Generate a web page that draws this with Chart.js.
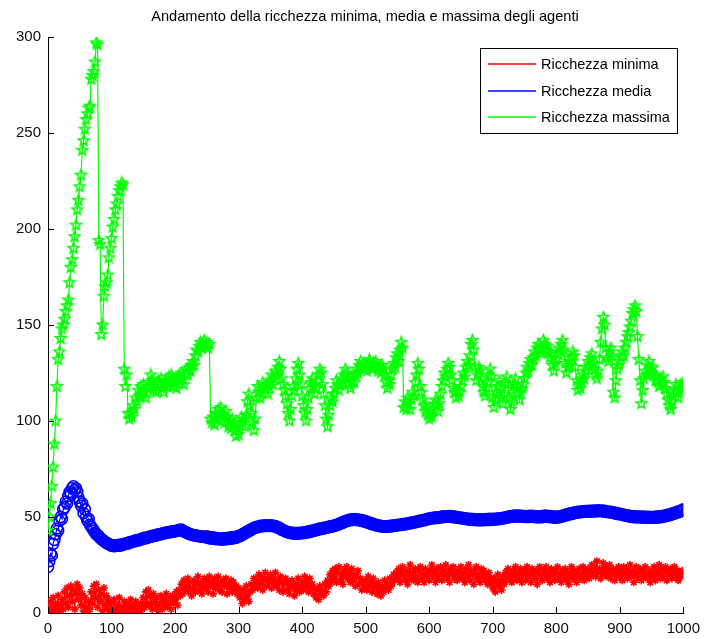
<!DOCTYPE html>
<html>
<head>
<meta charset="utf-8">
<title>Ricchezza degli agenti</title>
<script src="https://cdn.jsdelivr.net/npm/chart.js@4.4.1/dist/chart.umd.min.js"></script>
<style>
  html, body { margin: 0; padding: 0; background: #fff; }
  #wrap { width: 707px; height: 639px; }
</style>
</head>
<body>
<div id="wrap"><canvas id="c" width="707" height="639"></canvas></div>
<script>
// Simulation steps (one sample every 2 steps, 0..1000)
const steps = [];
for (let s = 0; s <= 1000; s += 2) steps.push(s);

const titleText = 'Andamento della ricchezza minima, media e massima degli agenti';
const seriesNames = ['Ricchezza minima', 'Ricchezza media', 'Ricchezza massima'];
const xTicks = [0, 100, 200, 300, 400, 500, 600, 700, 800, 900, 1000];
const yTicks = [0, 50, 100, 150, 200, 250, 300];

// Minimum wealth (each row = 50 steps)
const ricchezzaMinima = [
  3, 0, 6, 2, 8, 1, 5, 3, 9, 1, 4, 7, 2, 11, 5, 13, 3, 9, 14, 6, 12, 2, 10, 15, 7,
  13, 4, 10, 1, 8, 3, 0, 6, 2, 11, 5, 14, 8, 15, 3, 12, 6, 10, 1, 13, 4, 9, 2, 7, 0,
  5, 1, 7, 2, 0, 4, 8, 1, 3, 0, 6, 2, 5, 1, 3, 7, 0, 4, 2, 6, 1, 3, 0, 5, 2,
  8, 3, 11, 5, 12, 4, 9, 2, 10, 6, 3, 8, 1, 5, 9, 2, 7, 4, 10, 3, 6, 8, 2, 9, 5,
  7, 11, 4, 12, 9, 15, 10, 17, 12, 14, 18, 11, 16, 9, 13, 17, 11, 15, 19, 12, 16, 10, 14, 18, 13,
  17, 11, 19, 14, 16, 10, 18, 13, 15, 19, 12, 16, 11, 17, 14, 18, 10, 15, 13, 17, 11, 16, 12, 14, 10,
  13, 8, 11, 5, 12, 7, 14, 9, 6, 11, 15, 12, 18, 14, 17, 13, 20, 15, 19, 12, 17, 21, 14, 18, 16,
  20, 13, 18, 15, 21, 14, 17, 12, 19, 16, 11, 15, 18, 12, 16, 10, 14, 17, 13, 9, 15, 12, 18, 11, 14,
  16, 12, 19, 14, 17, 11, 18, 13, 15, 10, 13, 8, 12, 7, 14, 10, 12, 9, 15, 11, 17, 14, 20, 16, 22,
  18, 23, 16, 21, 24, 17, 20, 15, 22, 19, 24, 18, 21, 16, 23, 17, 20, 14, 19, 22, 15, 18, 12, 16, 13,
  17, 12, 19, 14, 16, 11, 18, 13, 15, 10, 16, 12, 9, 14, 11, 17, 13, 15, 12, 18, 14, 16, 20, 17, 21,
  18, 23, 16, 21, 24, 19, 17, 22, 15, 20, 25, 18, 21, 17, 23, 19, 16, 22, 24, 18, 20, 16, 23, 19, 21,
  17, 22, 25, 19, 21, 16, 23, 18, 20, 24, 17, 22, 19, 25, 18, 21, 16, 23, 20, 24, 18, 21, 17, 22, 19,
  24, 18, 21, 16, 23, 19, 25, 17, 22, 20, 15, 21, 24, 18, 20, 16, 23, 19, 22, 17, 20, 15, 21, 18, 16,
  13, 18, 11, 16, 20, 14, 17, 12, 19, 15, 21, 17, 23, 18, 20, 16, 22, 19, 24, 17, 21, 18, 23, 16, 20,
  22, 17, 24, 19, 21, 16, 23, 20, 18, 22, 15, 21, 24, 19, 17, 22, 20, 24, 18, 21, 16, 23, 19, 22, 17,
  21, 24, 18, 20, 16, 22, 19, 23, 17, 21, 15, 20, 24, 18, 22, 19, 16, 21, 23, 18, 20, 24, 17, 22, 19,
  23, 18, 22, 25, 20, 24, 19, 27, 21, 23, 18, 22, 26, 20, 24, 19, 22, 25, 18, 21, 23, 17, 22, 20, 24,
  19, 22, 17, 24, 20, 23, 18, 21, 25, 19, 22, 16, 20, 24, 18, 21, 23, 17, 22, 19, 24, 20, 18, 22, 16,
  21, 19, 24, 17, 22, 20, 25, 18, 23, 19, 21, 24, 17, 22, 20, 23, 18, 21, 24, 19, 22, 17, 21, 19, 22,
  20
];

// Mean wealth
const ricchezzaMedia = [
  24, 27, 31, 30, 36, 38, 41, 44, 43, 48, 50, 49, 54, 55, 58, 57, 61, 63, 62, 65, 66, 64, 65, 63, 60,
  58, 56, 57, 52, 54, 50, 48, 49, 46, 45, 44, 43, 42, 41, 40.5, 40, 39, 38.5, 38, 37.5, 37, 36.5, 36, 36, 35.5,
  35, 35.3, 34.8, 35.2, 35, 35.4, 35, 35.6, 35.3, 35.8, 36, 35.9, 36.4, 36.2, 36.8, 37, 36.9, 37.4, 37.3, 37.8, 38, 37.8, 38.3, 38.2, 38.6,
  39, 38.8, 39.3, 39.1, 39.6, 39.8, 39.7, 40.2, 40.1, 40.5, 40.4, 40.9, 41, 40.9, 41.3, 41.2, 41.6, 41.5, 41.9, 42, 41.9, 42.3, 42.2, 42.5, 42.4,
  42.6, 42.8, 43, 43.3, 43.1, 43.4, 42.9, 42.6, 42.2, 41.9, 41.6, 41.3, 41, 40.9, 40.6, 40.5, 40.4, 40.3, 40.1, 40, 39.9, 39.9, 39.7, 39.6, 39.6,
  39.9, 39.1, 39.6, 38.8, 39.4, 38.7, 39.3, 38.5, 39, 38.4, 38.9, 38.2, 38.8, 38.3, 39, 38.4, 39.1, 38.6, 39.3, 38.7, 39.5, 38.9, 39.6, 39.2, 39.9,
  39.8, 40.4, 40.3, 41, 41.1, 41.8, 41.9, 42.6, 42.6, 43.3, 43.4, 44, 44.1, 44.6, 44.5, 45, 44.9, 45.4, 45.1, 45.6, 45.3, 45.7, 45.3, 45.7, 45.4,
  45.7, 45.3, 45.6, 45.1, 45.3, 44.7, 44.8, 44.1, 44, 43.4, 43.2, 42.8, 42.6, 42.2, 42.2, 41.8, 41.9, 41.5, 41.8, 41.3, 41.7, 41.3, 41.8, 41.4, 41.8,
  41.5, 42, 41.7, 42.2, 41.9, 42.5, 42.2, 42.8, 42.6, 43.1, 42.9, 43.5, 43.3, 43.8, 43.6, 44.1, 43.9, 44.4, 44.2, 44.7, 44.5, 45, 44.8, 45.3, 45.1,
  45.6, 45.5, 46, 45.9, 46.5, 46.5, 47.1, 47, 47.6, 47.6, 48.1, 48, 48.5, 48.3, 48.8, 48.5, 48.9, 48.5, 48.8, 48.3, 48.6, 48.1, 48.4, 47.8, 48,
  47.4, 47.6, 47, 47.1, 46.5, 46.7, 46.1, 46.2, 45.7, 45.8, 45.4, 45.5, 45.1, 45.3, 44.9, 45.2, 44.9, 45.2, 45, 45.4, 45.1, 45.5, 45.3, 45.7, 45.5,
  45.9, 45.7, 46.1, 45.9, 46.3, 46.1, 46.5, 46.3, 46.7, 46.6, 47, 46.8, 47.3, 47.1, 47.5, 47.4, 47.8, 47.7, 48.1, 48, 48.4, 48.3, 48.7, 48.7, 49.1,
  49, 49.4, 49.2, 49.6, 49.4, 49.8, 49.5, 49.9, 49.7, 50.1, 49.9, 50.3, 50, 50.4, 50.1, 50.5, 50.2, 50.5, 50, 50.3, 49.8, 50.1, 49.6, 49.9, 49.5,
  49.7, 49.2, 49.5, 49, 49.3, 48.8, 49.1, 48.6, 49, 48.5, 48.9, 48.4, 48.8, 48.3, 48.8, 48.3, 48.8, 48.3, 48.8, 48.4, 48.9, 48.4, 49, 48.5, 49,
  48.6, 49.1, 48.7, 49.2, 48.8, 49.3, 49, 49.5, 49.2, 49.7, 49.5, 50, 49.8, 50.3, 50, 50.5, 50.2, 50.7, 50.3, 50.8, 50.3, 50.7, 50.2, 50.6, 50.1,
  50.5, 50, 50.5, 50, 50.6, 50.1, 50.6, 50.1, 50.5, 49.9, 50.3, 49.8, 50.4, 49.9, 50.5, 50, 50.7, 50.1, 50.6, 50, 50.5, 49.9, 50.3, 49.7, 50.2,
  49.7, 50.2, 49.8, 50.4, 50.1, 50.7, 50.5, 51.1, 50.9, 51.5, 51.3, 51.9, 51.6, 52.2, 51.9, 52.5, 52.2, 52.7, 52.4, 52.9, 52.6, 53, 52.7, 53.1, 52.8,
  53.2, 52.8, 53.2, 52.9, 53.3, 52.9, 53.4, 53, 53.5, 53.1, 53.4, 53, 53.3, 52.8, 53.1, 52.6, 52.9, 52.4, 52.7, 52.2, 52.5, 51.9, 52.2, 51.6, 51.9,
  51.4, 51.6, 51.1, 51.3, 50.8, 51, 50.5, 50.7, 50.2, 50.5, 50, 50.4, 49.9, 50.3, 49.8, 50.2, 49.8, 50.2, 49.7, 50.2, 49.7, 50.1, 49.6, 50.1, 49.6,
  50, 49.6, 50.1, 49.6, 50.2, 49.7, 50.3, 49.9, 50.5, 50.1, 50.7, 50.4, 51, 50.7, 51.4, 51.1, 51.8, 51.5, 52.2, 52, 52.7, 52.5, 53.1, 53, 53.5,
  54
];

// Maximum wealth
const ricchezzaMassima = [
  43, 50, 57, 66, 76, 88, 100, 118, 132, 136, 143, 148, 150, 153, 157, 160, 163, 172, 180, 184, 190, 196, 202, 210, 215,
  222, 228, 241, 246, 252, 257, 260, 263, 264, 278, 280, 282, 287, 297, 296, 194, 192, 145, 150, 165, 170, 172, 176, 185, 190,
  195, 201, 205, 210, 213, 217, 220, 222, 224, 223, 127, 118, 124, 104, 101, 104, 102, 108, 106, 112, 110, 116, 113, 118, 114,
  119, 115, 112, 117, 120, 118, 124, 121, 116, 119, 115, 118, 121, 119, 122, 117, 115, 119, 121, 118, 123, 120, 124, 121, 118,
  120, 117, 122, 124, 121, 125, 122, 119, 124, 127, 124, 128, 126, 129, 131, 129, 134, 137, 136, 139, 141, 138, 140, 142, 139,
  141, 138, 140, 101, 99, 102, 98, 104, 101, 106, 103, 107, 100, 103, 99, 105, 102, 97, 100, 96, 101, 99, 95, 92, 96,
  93, 98, 102, 99, 101, 97, 103, 110, 114, 108, 104, 99, 95, 101, 112, 118, 115, 112, 117, 120, 118, 116, 119, 114, 118,
  121, 124, 119, 122, 126, 124, 128, 131, 127, 122, 119, 116, 113, 109, 104, 100, 106, 113, 118, 116, 122, 127, 130, 124, 119,
  113, 108, 104, 100, 106, 112, 117, 120, 122, 118, 114, 117, 121, 124, 127, 125, 119, 114, 108, 101, 97, 103, 108, 112, 110,
  114, 117, 121, 119, 116, 119, 122, 120, 124, 127, 125, 122, 119, 117, 121, 123, 120, 124, 127, 125, 129, 131, 128, 130, 127,
  129, 126, 130, 132, 129, 127, 130, 128, 131, 129, 126, 128, 125, 129, 127, 124, 120, 117, 121, 119, 124, 127, 130, 128, 133,
  135, 131, 137, 141, 138, 107, 110, 106, 112, 109, 106, 111, 115, 113, 120, 124, 130, 127, 118, 115, 111, 108, 105, 107, 103,
  101, 104, 102, 106, 109, 111, 108, 105, 109, 114, 118, 121, 125, 123, 127, 130, 128, 124, 121, 117, 115, 112, 116, 113, 115,
  118, 121, 125, 123, 128, 131, 129, 134, 140, 142, 137, 128, 121, 124, 128, 126, 122, 118, 115, 113, 117, 120, 124, 127, 123,
  112, 107, 111, 115, 118, 121, 117, 112, 109, 114, 120, 123, 119, 112, 106, 110, 115, 119, 122, 118, 114, 111, 115, 117, 119,
  122, 125, 128, 126, 130, 132, 129, 133, 136, 134, 138, 140, 137, 135, 138, 142, 140, 137, 139, 136, 133, 135, 129, 126, 130,
  132, 135, 138, 136, 140, 142, 137, 130, 125, 128, 131, 129, 133, 136, 134, 128, 121, 116, 119, 117, 121, 124, 122, 126, 128,
  131, 129, 133, 135, 130, 127, 124, 122, 126, 132, 141, 148, 154, 150, 138, 133, 131, 136, 138, 134, 115, 112, 121, 127, 129,
  131, 133, 136, 134, 138, 141, 144, 146, 149, 152, 156, 158, 160, 157, 144, 132, 121, 109, 116, 122, 126, 124, 129, 131, 127,
  125, 128, 124, 121, 123, 120, 118, 122, 119, 123, 120, 117, 114, 111, 108, 106, 110, 113, 116, 119, 115, 112, 116, 119, 117,
  120
];

const RED = '#ff0000', BLUE = '#0000ff', GREEN = '#00ff00';
const FONT = '"Liberation Sans", Arial, Helvetica, sans-serif';

// Outlined five-pointed star used as the marker of the maximum series
function pentagram(color, outer, inner, width) {
  const size = Math.ceil(outer * 2 + width + 2);
  const cv = document.createElement('canvas');
  cv.width = size; cv.height = size;
  const g = cv.getContext('2d');
  const c = size / 2;
  g.beginPath();
  for (let k = 0; k < 10; k++) {
    const r = k % 2 === 0 ? outer : inner;
    const a = -Math.PI / 2 + k * Math.PI / 5;
    const px = c + r * Math.cos(a), py = c + r * Math.sin(a);
    if (k === 0) g.moveTo(px, py); else g.lineTo(px, py);
  }
  g.closePath();
  g.strokeStyle = color;
  g.lineWidth = width;
  g.lineJoin = 'miter';
  g.stroke();
  return cv;
}
const starMarker = pentagram(GREEN, 5.5, 2.4, 1.6);

const toPoints = vals => vals.map((v, i) => ({ x: steps[i], y: v }));

// Inward tick marks, title and boxed legend in classic plot style
const plotDecor = {
  id: 'plotDecor',
  afterDraw(chart) {
    const { ctx, chartArea: a, scales: { x, y } } = chart;
    ctx.save();
    ctx.strokeStyle = '#000';
    ctx.lineWidth = 1;
    ctx.beginPath();
    xTicks.forEach(t => {
      const px = Math.round(x.getPixelForValue(t)) + 0.5;
      ctx.moveTo(px, a.bottom);
      ctx.lineTo(px, a.bottom - 6);
    });
    yTicks.forEach(t => {
      const py = Math.round(y.getPixelForValue(t)) + 0.5;
      ctx.moveTo(a.left, py);
      ctx.lineTo(a.left + 6, py);
    });
    ctx.stroke();

    // title
    ctx.fillStyle = '#000';
    ctx.font = '14.6px ' + FONT;
    ctx.textAlign = 'center';
    ctx.textBaseline = 'middle';
    ctx.fillText(titleText, 365, 17);

    // legend
    const bx = 480.5, by = 48.5, bw = 197, bh = 85;
    ctx.fillStyle = '#fff';
    ctx.fillRect(bx, by, bw, bh);
    ctx.strokeStyle = '#000';
    ctx.strokeRect(bx, by, bw, bh);
    const colors = [RED, BLUE, GREEN];
    const rows = [64, 91, 117];
    ctx.font = '14.5px ' + FONT;
    ctx.textAlign = 'left';
    seriesNames.forEach((name, i) => {
      ctx.strokeStyle = colors[i];
      ctx.lineWidth = 1.5;
      ctx.beginPath();
      ctx.moveTo(488, rows[i]);
      ctx.lineTo(536, rows[i]);
      ctx.stroke();
      ctx.fillStyle = '#000';
      ctx.fillText(name, 541, rows[i] + 1);
    });
    ctx.restore();
  }
};

new Chart(document.getElementById('c'), {
  type: 'line',
  data: {
    datasets: [
      {
        label: seriesNames[0],
        data: toPoints(ricchezzaMinima),
        borderColor: RED,
        backgroundColor: RED,
        borderWidth: 1.2,
        pointStyle: 'star',
        pointRadius: 4,
        pointBorderWidth: 1.6,
        pointBorderColor: RED,
        order: 3
      },
      {
        label: seriesNames[1],
        data: toPoints(ricchezzaMedia),
        borderColor: BLUE,
        backgroundColor: 'rgba(0,0,0,0)',
        borderWidth: 1.2,
        pointStyle: 'circle',
        pointRadius: 5.5,
        pointBorderWidth: 1.6,
        pointBorderColor: BLUE,
        pointBackgroundColor: 'rgba(0,0,0,0)',
        order: 2
      },
      {
        label: seriesNames[2],
        data: toPoints(ricchezzaMassima),
        borderColor: GREEN,
        backgroundColor: GREEN,
        borderWidth: 1.2,
        pointStyle: starMarker,
        pointRadius: 5,
        order: 1
      }
    ]
  },
  options: {
    responsive: false,
    animation: false,
    events: [],
    layout: { padding: { top: 37, right: 19, left: 0, bottom: 0 } },
    plugins: {
      legend: { display: false },
      title: { display: false },
      tooltip: { enabled: false }
    },
    scales: {
      x: {
        type: 'linear',
        min: 0,
        max: 1000,
        afterFit(s) { s.height = 26; },
        afterBuildTicks(s) { s.ticks = xTicks.map(v => ({ value: v })); },
        grid: { display: true, drawOnChartArea: false, drawTicks: false },
        border: { display: true, color: '#000', width: 1 },
        ticks: {
          color: '#111', font: { size: 15, family: FONT }, padding: 7,
          maxRotation: 0, autoSkip: false, callback: v => String(v)
        }
      },
      y: {
        type: 'linear',
        min: 0,
        max: 300,
        afterFit(s) { s.width = 48; },
        afterBuildTicks(s) { s.ticks = yTicks.map(v => ({ value: v })); },
        grid: { display: true, drawOnChartArea: false, drawTicks: false },
        border: { display: true, color: '#000', width: 1 },
        ticks: {
          color: '#111', font: { size: 15, family: FONT }, padding: 7,
          autoSkip: false, callback: v => String(v)
        }
      }
    }
  },
  plugins: [plotDecor]
});
</script>
</body>
</html>
